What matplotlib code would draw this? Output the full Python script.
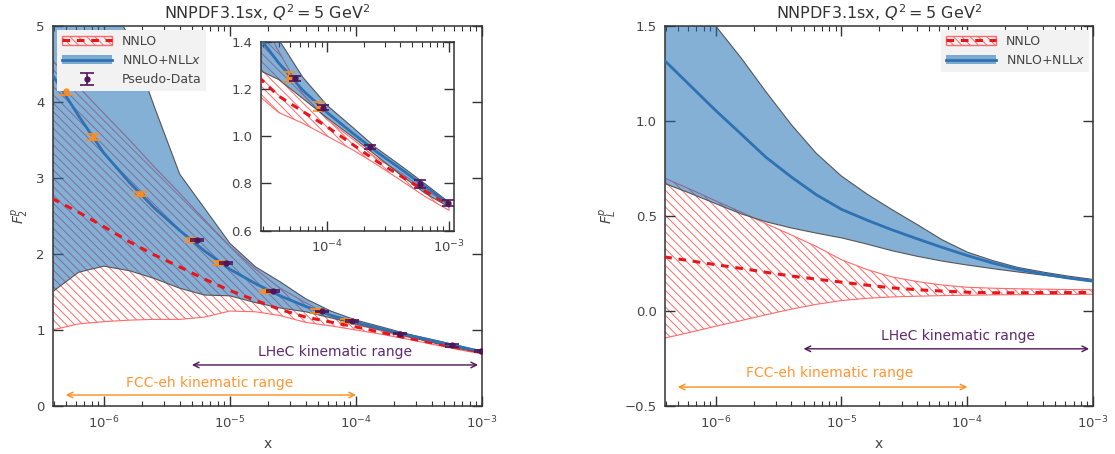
import numpy as np
import matplotlib
matplotlib.use('Agg')
import matplotlib.pyplot as plt
from matplotlib.patches import Patch
from matplotlib.lines import Line2D
from matplotlib.ticker import LogLocator, NullFormatter

# x grid shared by all the curves
x_grid = [3.9e-7, 6.3e-7, 1.0e-6, 1.6e-6, 2.5e-6, 4.0e-6, 6.3e-6, 1.0e-5, 1.6e-5,
          2.5e-5, 4.0e-5, 6.3e-5, 1.0e-4, 1.6e-4, 2.5e-4, 4.0e-4, 6.3e-4, 1.0e-3]

# F2 panel
f2_nnlo_lo = [1.00, 1.08, 1.11, 1.13, 1.14, 1.14, 1.17, 1.25, 1.24,
              1.19, 1.10, 1.055, 1.00, 0.944, 0.883, 0.814, 0.746, 0.686]
f2_nnlo_c = [2.73, 2.55, 2.36, 2.16, 1.99, 1.83, 1.67, 1.52, 1.39,
             1.27, 1.17, 1.105, 1.04, 0.967, 0.897, 0.832, 0.769, 0.71]
f2_nnlo_hi = [4.55, 4.20, 3.85, 3.50, 3.15, 2.80, 2.45, 2.10, 1.80,
              1.55, 1.36, 1.18, 1.07, 0.99, 0.91, 0.845, 0.775, 0.712]
f2_nll_lo = [1.50, 1.76, 1.84, 1.78, 1.68, 1.55, 1.46, 1.45, 1.36,
             1.29, 1.24, 1.16, 1.077, 0.999, 0.92, 0.837, 0.76, 0.70]
f2_nll_c = [4.36, 3.82, 3.33, 2.94, 2.61, 2.31, 2.04, 1.80, 1.61,
            1.45, 1.31, 1.195, 1.10, 1.015, 0.937, 0.862, 0.788, 0.715]
f2_nll_hi = [7.0, 6.2, 5.45, 4.85, 3.95, 3.05, 2.60, 2.14, 1.83,
             1.635, 1.41, 1.25, 1.13, 1.04, 0.952, 0.876, 0.80, 0.72]

# FL panel
fl_nnlo_lo = [-0.143, -0.112, -0.080, -0.050, -0.020, 0.010, 0.035, 0.055, 0.067,
              0.074, 0.078, 0.081, 0.083, 0.085, 0.086, 0.087, 0.087, 0.088]
fl_nnlo_c = [0.285, 0.264, 0.244, 0.224, 0.204, 0.184, 0.168, 0.152, 0.136,
             0.122, 0.112, 0.105, 0.099, 0.096, 0.096, 0.097, 0.097, 0.098]
fl_nnlo_hi = [0.70, 0.64, 0.58, 0.52, 0.46, 0.40, 0.34, 0.27, 0.218,
              0.18, 0.155, 0.137, 0.125, 0.120, 0.117, 0.115, 0.113, 0.112]
fl_nll_lo = [0.672, 0.619, 0.565, 0.511, 0.470, 0.437, 0.41, 0.385, 0.352,
             0.318, 0.288, 0.263, 0.242, 0.223, 0.206, 0.189, 0.172, 0.155]
fl_nll_c = [1.32, 1.185, 1.055, 0.93, 0.81, 0.705, 0.612, 0.535, 0.478,
            0.428, 0.38, 0.335, 0.292, 0.252, 0.22, 0.195, 0.174, 0.157]
fl_nll_hi = [1.85, 1.68, 1.50, 1.33, 1.155, 0.98, 0.83, 0.71, 0.615,
             0.535, 0.455, 0.375, 0.31, 0.265, 0.23, 0.205, 0.184, 0.166]

# pseudo-data
fcc_x = [5.0e-7, 8.2e-7, 1.95e-6, 4.9e-6, 8.2e-6, 1.95e-5, 4.9e-5, 8.5e-5]
fcc_y = [4.15, 3.54, 2.79, 2.18, 1.88, 1.51, 1.25, 1.125]
fcc_err = [0.055, 0.035, 0.03, 0.025, 0.022, 0.02, 0.02, 0.02]
lhec_x = [5.5e-6, 9.3e-6, 2.2e-5, 5.4e-5, 9.3e-5, 2.25e-4, 5.8e-4, 9.8e-4]
lhec_y = [2.18, 1.88, 1.51, 1.245, 1.121, 0.953, 0.798, 0.718]
lhec_err = [0.015, 0.012, 0.01, 0.01, 0.01, 0.009, 0.016, 0.013]

# kinematic ranges
fcc_range = [5e-7, 1e-4]
lhec_range = [5e-6, 9.3e-4]

RED_BAND = '#ff6a6a'
RED_LINE = '#e8161c'
BLUE_FILL = '#1f6fb4'
BLUE_LINE = '#2f72b3'
ORANGE = '#ff8c1a'
PURPLE = '#4f1558'
TXT = '#444444'

plt.rcParams['hatch.linewidth'] = 0.7
plt.rcParams['axes.edgecolor'] = '#333333'
plt.rcParams['axes.linewidth'] = 1.1
plt.rcParams['mathtext.fontset'] = 'dejavusans'


def draw_bands(ax, nnlo_lo, nnlo_c, nnlo_hi, nll_lo, nll_c, nll_hi):
    ax.fill_between(x_grid, nnlo_lo, nnlo_hi, facecolor='none', edgecolor=RED_BAND,
                    hatch='\\\\\\\\', lw=0.8, zorder=1)
    ax.fill_between(x_grid, nll_lo, nll_hi, facecolor=BLUE_FILL, alpha=0.55,
                    edgecolor='none', zorder=2)
    ax.plot(x_grid, nll_lo, color='#555555', lw=0.8, zorder=3)
    ax.plot(x_grid, nll_hi, color='#555555', lw=0.8, zorder=3)
    ax.plot(x_grid, nnlo_c, color=RED_LINE, ls=(0, (2.5, 2.2)), lw=2.2, zorder=4)
    ax.plot(x_grid, nll_c, color=BLUE_LINE, lw=2.0, zorder=4)


def draw_data(ax, cap):
    ax.errorbar(fcc_x, fcc_y, yerr=fcc_err, fmt='o', ms=3.5, color=ORANGE,
                capsize=cap, elinewidth=1.2, capthick=1.2, zorder=5)
    return ax.errorbar(lhec_x, lhec_y, yerr=lhec_err, fmt='o', ms=3.5, color=PURPLE,
                       capsize=cap, elinewidth=1.2, capthick=1.2, zorder=6)


def style_axis(ax, labelsize=9.5):
    ax.set_xscale('log')
    ax.xaxis.set_major_locator(LogLocator(base=10, numticks=20))
    ax.xaxis.set_minor_locator(LogLocator(base=10, subs=np.arange(2, 10), numticks=20))
    ax.xaxis.set_minor_formatter(NullFormatter())
    ax.tick_params(which='both', direction='in', top=True, right=True,
                   colors='#333333', labelcolor=TXT, labelsize=labelsize)
    ax.tick_params(which='major', length=7, width=1.0, pad=6)
    ax.tick_params(which='minor', length=3.5, width=0.8)


def draw_ranges(ax, y_lhec, y_lhec_txt, x_lhec_txt, y_fcc, y_fcc_txt, x_fcc_txt):
    ax.annotate('', xy=(lhec_range[1], y_lhec), xytext=(lhec_range[0], y_lhec),
                arrowprops=dict(arrowstyle='<->', color=PURPLE, lw=1.0,
                                shrinkA=0, shrinkB=0))
    ax.text(x_lhec_txt, y_lhec_txt, 'LHeC kinematic range', color='#5e2a6e',
            ha='center', va='center', fontsize=10)
    ax.annotate('', xy=(fcc_range[1], y_fcc), xytext=(fcc_range[0], y_fcc),
                arrowprops=dict(arrowstyle='<->', color=ORANGE, lw=1.0,
                                shrinkA=0, shrinkB=0))
    ax.text(x_fcc_txt, y_fcc_txt, 'FCC-eh kinematic range', color='#ff9633',
            ha='center', va='center', fontsize=10)


fig = plt.figure(figsize=(11.15, 4.54), dpi=100)
ax1 = fig.add_axes([0.0475, 0.1057, 0.3848, 0.837])
ax2 = fig.add_axes([0.5964, 0.1057, 0.3839, 0.837])
axin = fig.add_axes([0.2338, 0.4919, 0.1734, 0.4163])

title = 'NNPDF3.1sx, $Q^2 = 5$ GeV$^2$'

# ---- F2 ----
draw_bands(ax1, f2_nnlo_lo, f2_nnlo_c, f2_nnlo_hi, f2_nll_lo, f2_nll_c, f2_nll_hi)
data_handle = draw_data(ax1, 5)
draw_ranges(ax1, 0.54, 0.71, 6.8e-5, 0.145, 0.30, 6.9e-6)
style_axis(ax1)
ax1.set_xlim(3.95e-7, 1.0e-3)
ax1.set_ylim(0, 5)
ax1.set_yticks([0, 1, 2, 3, 4, 5])
ax1.set_title(title, fontsize=11.5, color='#333333', pad=5)
ax1.set_xlabel('x', color=TXT, fontsize=10)
ax1.set_ylabel('$F_2^p$', color=TXT, fontsize=10)

h_nnlo = (Patch(facecolor='none', edgecolor=RED_BAND, hatch='\\\\\\\\'),
          Line2D([], [], color=RED_LINE, ls=(0, (2.5, 2.2)), lw=2.2))
h_nll = (Patch(facecolor=BLUE_FILL, alpha=0.55, edgecolor='none'),
         Line2D([], [], color=BLUE_LINE, lw=2))
ax1.legend([h_nnlo, h_nll, data_handle], ['NNLO', 'NNLO+NLL$x$', 'Pseudo-Data'],
           loc='upper left', fontsize=9, facecolor='#f2f2f2', edgecolor='none',
           framealpha=1, fancybox=False, handlelength=4, borderaxespad=0.3,
           labelcolor=TXT)

# ---- inset ----
draw_bands(axin, f2_nnlo_lo, f2_nnlo_c, f2_nnlo_hi, f2_nll_lo, f2_nll_c, f2_nll_hi)
draw_data(axin, 4)
style_axis(axin)
axin.set_xlim(2.85e-5, 1.1e-3)
axin.set_ylim(0.6, 1.4)
axin.set_yticks([0.6, 0.8, 1.0, 1.2, 1.4])
axin.set_facecolor('white')

# ---- FL ----
draw_bands(ax2, fl_nnlo_lo, fl_nnlo_c, fl_nnlo_hi, fl_nll_lo, fl_nll_c, fl_nll_hi)
draw_ranges(ax2, -0.199, -0.13, 8.5e-5, -0.40, -0.326, 8.1e-6)
style_axis(ax2)
ax2.set_xlim(3.95e-7, 1.0e-3)
ax2.set_ylim(-0.5, 1.5)
ax2.set_yticks([-0.5, 0.0, 0.5, 1.0, 1.5])
ax2.yaxis.set_major_formatter(plt.FuncFormatter(lambda v, p: f'{v:.1f}'.replace('-', '\u2212')))
ax2.set_title(title, fontsize=11.5, color='#333333', pad=5)
ax2.set_xlabel('x', color=TXT, fontsize=10)
ax2.set_ylabel('$F_L^p$', color=TXT, fontsize=10)
ax2.legend([h_nnlo, h_nll], ['NNLO', 'NNLO+NLL$x$'],
           loc='upper right', fontsize=9, facecolor='#f2f2f2', edgecolor='none',
           framealpha=1, fancybox=False, handlelength=4, borderaxespad=0.3,
           labelcolor=TXT)

fig.savefig('out.png', dpi=100)
